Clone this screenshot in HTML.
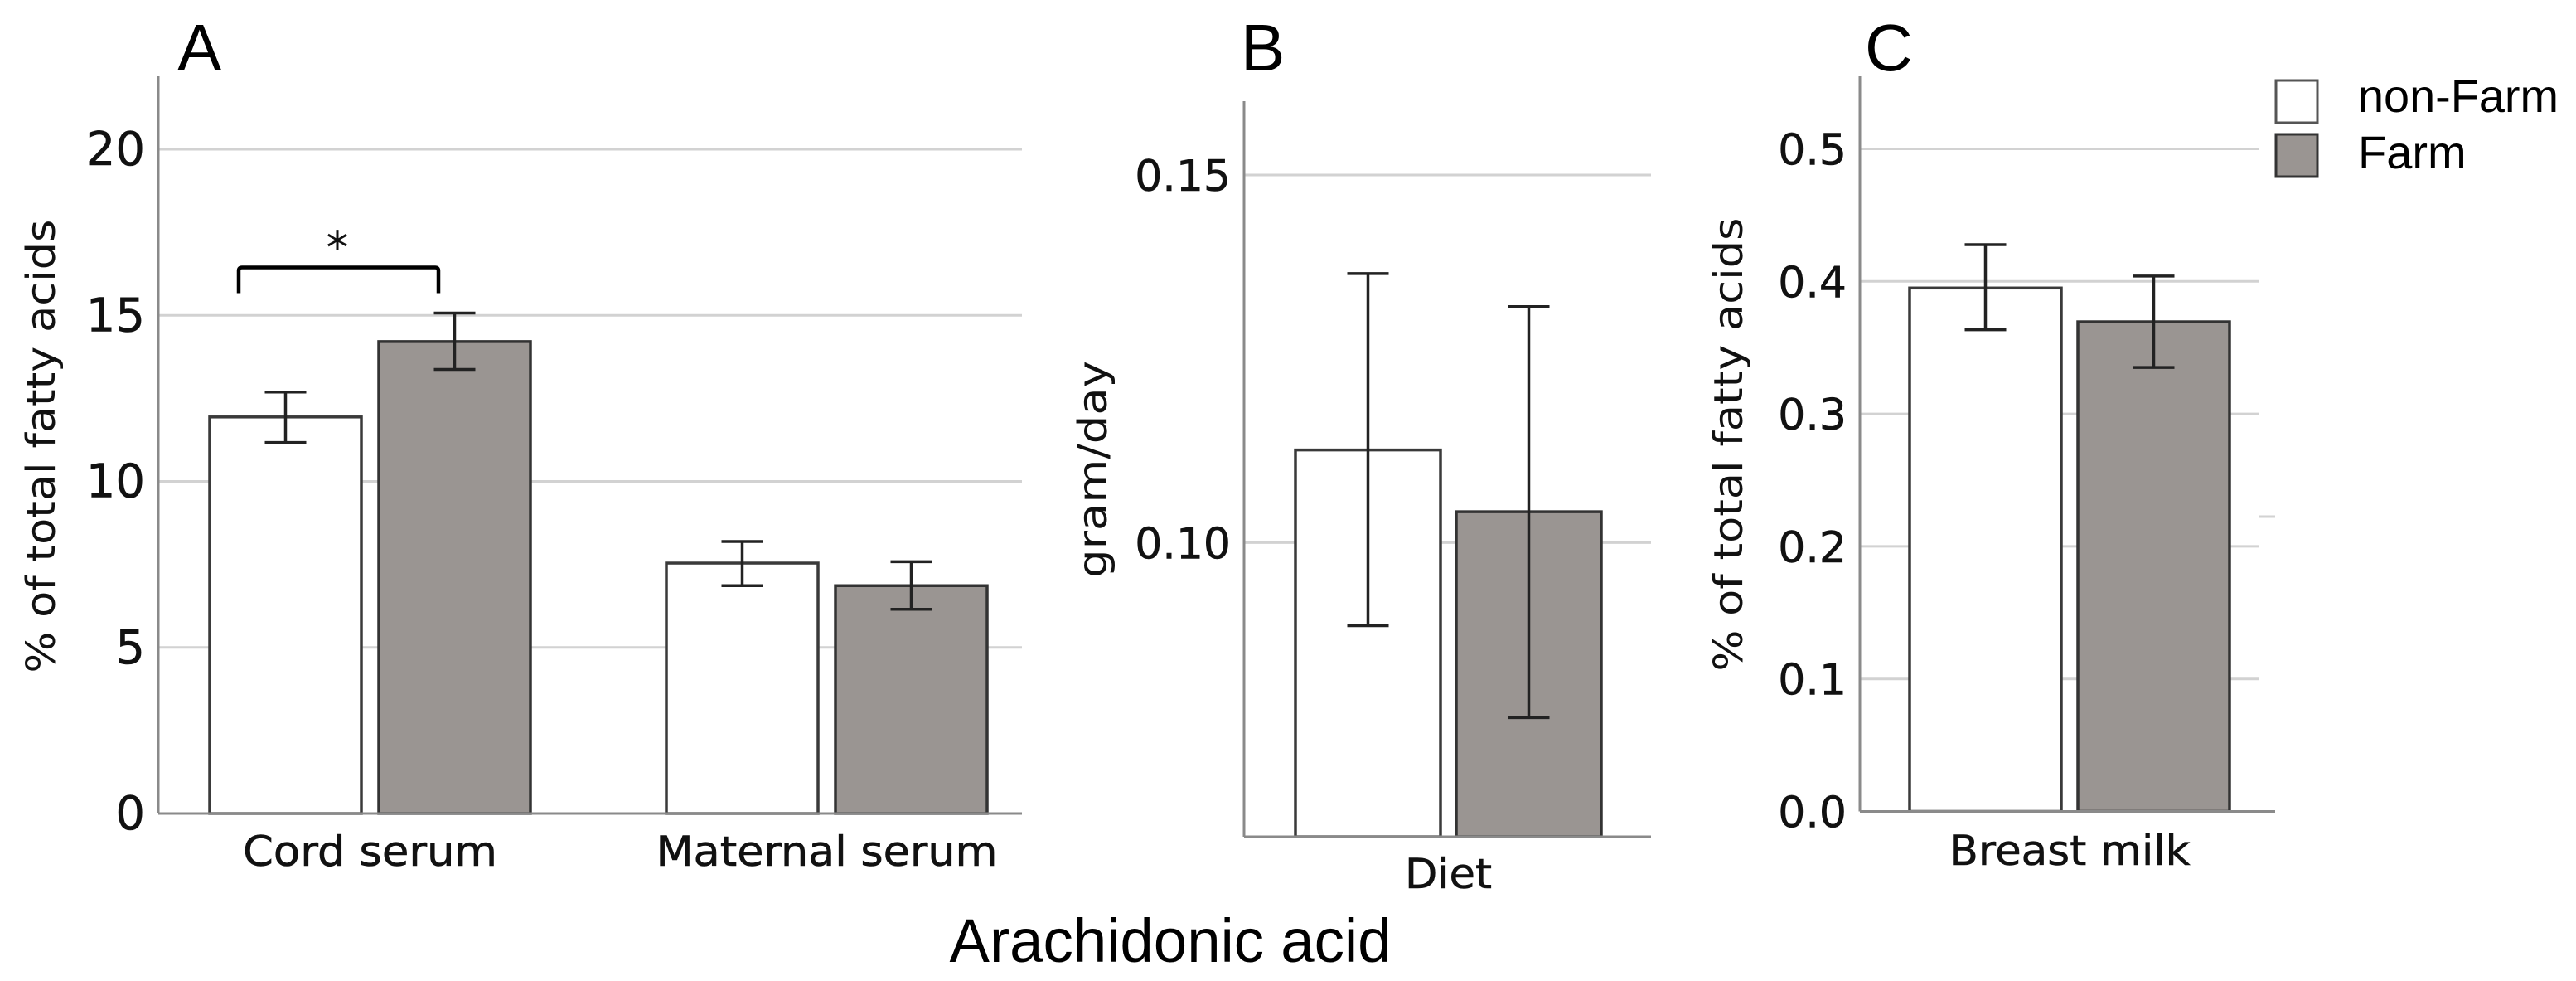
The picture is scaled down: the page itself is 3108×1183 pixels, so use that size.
<!DOCTYPE html>
<html><head><meta charset="utf-8"><style>
html,body{margin:0;padding:0;background:#fff;}
svg{display:block;}
text{font-family:"DejaVu Sans","Liberation Sans",sans-serif;fill:#111;}
.ar{font-family:"Liberation Sans",Arial,sans-serif;fill:#000;}
</style></head><body>
<svg id="chart" width="3108" height="1183" viewBox="0 0 3108 1183" xmlns="http://www.w3.org/2000/svg">
<g id="gA"></g>
<g id="gB"></g>
<g id="gC"></g>
<line x1="2726" x2="2745" y1="623" y2="623" stroke="#d2d2d2" stroke-width="3"/>
<text class="ar" x="1412" y="1160" font-size="74" text-anchor="middle" textLength="533" lengthAdjust="spacingAndGlyphs">Arachidonic acid</text>
<g>
<rect x="2746" y="97" width="50" height="51" fill="#fff" stroke="#555" stroke-width="3"/>
<rect x="2746" y="162" width="50" height="51" fill="#9a9592" stroke="#333" stroke-width="3"/>
<text class="ar" x="2845" y="135" font-size="56" textLength="242" lengthAdjust="spacingAndGlyphs">non-Farm</text>
<text class="ar" x="2845" y="203" font-size="56">Farm</text>
</g>
</svg>
<script>
// Panel A data
const catsA = ["Cord serum", "Maternal serum"];
const nonFarmA = [11.94, 7.54];
const nonFarmAlo = [11.17, 6.86];
const nonFarmAhi = [12.69, 8.19];
const farmA = [14.21, 6.86];
const farmAlo = [13.37, 6.15];
const farmAhi = [15.07, 7.58];
const ticksA = [0, 5, 10, 15, 20];
const tickLabelsA = ["0", "5", "10", "15", "20"];
// Panel B data
const catsB = ["Diet"];
const nonFarmB = [0.1126];
const nonFarmBlo = [0.0887];
const nonFarmBhi = [0.1366];
const farmB = [0.1042];
const farmBlo = [0.0762];
const farmBhi = [0.1321];
const ticksB = [0.10, 0.15];
const tickLabelsB = ["0.10", "0.15"];
// Panel C data
const catsC = ["Breast milk"];
const nonFarmC = [0.395];
const nonFarmClo = [0.3635];
const nonFarmChi = [0.4277];
const farmC = [0.3695];
const farmClo = [0.335];
const farmChi = [0.404];
const ticksC = [0, 0.1, 0.2, 0.3, 0.4, 0.5];
const tickLabelsC = ["0.0", "0.1", "0.2", "0.3", "0.4", "0.5"];

const NS = "http://www.w3.org/2000/svg";
function mk(parent, tag, attrs) {
  const e = document.createElementNS(NS, tag);
  for (const k in attrs) e.setAttribute(k, attrs[k]);
  parent.appendChild(e);
  return e;
}

function panel(g, cfg) {
  const y = v => cfg.y0 + (v - cfg.vmin) / (cfg.vmax - cfg.vmin) * (cfg.y1 - cfg.y0);
  cfg.ticks.forEach((t, i) => {
    if (t !== cfg.vmin) {
      const gl = mk(g, "line", {x1: cfg.ax, x2: cfg.gridR, y1: y(t), y2: y(t), stroke: "#d2d2d2", "stroke-width": 3});
      
      
    }
    const tl = mk(g, "text", {x: cfg.ax - 16, y: y(t) + 19, "font-size": cfg.tfs, "text-anchor": "end", "stroke": "#111", "stroke-width": 0.6});
    tl.textContent = cfg.tickLabels[i];
    
    
  });
  const ya = mk(g, "line", {x1: cfg.ax, x2: cfg.ax, y1: cfg.axTop, y2: cfg.y0, stroke: "#8a8a8a", "stroke-width": 3});
  
  
  cfg.cats.forEach((c, i) => {
    const gx = cfg.groupX[i];
    const series = [
      {v: cfg.nf[i], lo: cfg.nflo[i], hi: cfg.nfhi[i], fill: "#ffffff", stroke: "#3a3a3a", name: "bar-non-farm"},
      {v: cfg.f[i], lo: cfg.flo[i], hi: cfg.fhi[i], fill: "#9a9592", stroke: "#333", name: "bar-farm"}
    ];
    series.forEach((s, j) => {
      const x = gx + j * (cfg.bw + cfg.gap);
      const r = mk(g, "rect", {x: x, y: y(s.v), width: cfg.bw, height: cfg.y0 - y(s.v), fill: s.fill, stroke: s.stroke, "stroke-width": 3.5});
      
      
      const cx = x + cfg.bw / 2;
      const eg = mk(g, "g", {stroke: "#222", "stroke-width": 3.5});
      
      
      mk(eg, "line", {x1: cx, x2: cx, y1: y(s.hi), y2: y(s.lo)});
      mk(eg, "line", {x1: cx - 25, x2: cx + 25, y1: y(s.hi), y2: y(s.hi)});
      mk(eg, "line", {x1: cx - 25, x2: cx + 25, y1: y(s.lo), y2: y(s.lo)});
    });
    const cl = mk(g, "text", {x: gx + cfg.bw + cfg.gap / 2, y: cfg.catY, "font-size": 50, "text-anchor": "middle", textLength: cfg.catLen[i], lengthAdjust: "spacingAndGlyphs", "stroke": "#111", "stroke-width": 0.6});
    cl.textContent = c;
    
    
  });
  const xa = mk(g, "line", {x1: cfg.ax, x2: cfg.axR, y1: cfg.y0, y2: cfg.y0, stroke: "#8a8a8a", "stroke-width": 3});
  
  
  const yt = mk(g, "text", {x: 0, y: 0, "font-size": 48, "text-anchor": "middle", transform: `translate(${cfg.ytX},${cfg.ytY}) rotate(-90)`, textLength: cfg.ytLen, lengthAdjust: "spacingAndGlyphs"});
  yt.textContent = cfg.ytitle;
  
  
  const pl = mk(g, "text", {x: cfg.lx, y: 85, "font-size": 80, "class": "ar"});
  pl.textContent = cfg.letter;
  
  
  return y;
}

const yA = panel(document.getElementById("gA"), {
  ax: 191, axTop: 92, y0: 981, y1: 180, vmin: 0, vmax: 20, gridR: 1233, axR: 1233,
  ticks: ticksA, tickLabels: tickLabelsA, tfs: 56,
  cats: catsA, groupX: [253, 804], bw: 183, gap: 21,
  nf: nonFarmA, nflo: nonFarmAlo, nfhi: nonFarmAhi, f: farmA, flo: farmAlo, fhi: farmAhi,
  catY: 1044, catLen: [307, 412], ytitle: "% of total fatty acids", ytX: 66, ytY: 538, ytLen: 547, letter: "A", lx: 214
});
(function(){
  const g = document.getElementById("gA");
  const yb = yA(farmAhi[0]) - 55;
  const b = mk(g, "path", {d: `M288 ${yb+31} L288 ${yb+4} Q288 ${yb} 292 ${yb} L525 ${yb} Q529 ${yb} 529 ${yb+4} L529 ${yb+31}`, fill: "none", stroke: "#000", "stroke-width": 4.5});
  
  
  const s = mk(g, "text", {x: 407, y: yb - 5, "font-size": 54, "text-anchor": "middle"});
  s.textContent = "*";
  
  
})();

panel(document.getElementById("gB"), {
  ax: 1501, axTop: 122, y0: 1009, y1: 211, vmin: 0.06, vmax: 0.15, gridR: 1992, axR: 1992,
  ticks: ticksB, tickLabels: tickLabelsB, tfs: 52,
  cats: catsB, groupX: [1563], bw: 175, gap: 19,
  nf: nonFarmB, nflo: nonFarmBlo, nfhi: nonFarmBhi, f: farmB, flo: farmBlo, fhi: farmBhi,
  catY: 1071, catLen: [105], ytitle: "gram/day", ytX: 1335, ytY: 566, ytLen: 262, letter: "B", lx: 1497
});

panel(document.getElementById("gC"), {
  ax: 2244, axTop: 92, y0: 978.5, y1: 179.5, vmin: 0, vmax: 0.5, gridR: 2726, axR: 2745,
  ticks: ticksC, tickLabels: tickLabelsC, tfs: 52,
  cats: catsC, groupX: [2304], bw: 183, gap: 20,
  nf: nonFarmC, nflo: nonFarmClo, nfhi: nonFarmChi, f: farmC, flo: farmClo, fhi: farmChi,
  catY: 1043, catLen: [291], ytitle: "% of total fatty acids", ytX: 2102, ytY: 536, ytLen: 547, letter: "C", lx: 2250
});
</script>
</body></html>
